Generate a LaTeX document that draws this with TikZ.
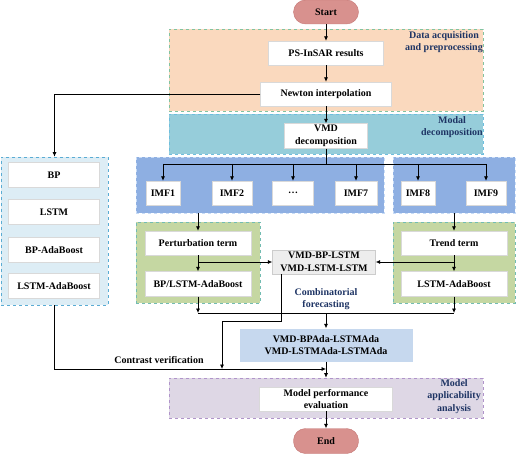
\documentclass[tikz,border=0pt]{standalone}
\usepackage{fontspec}
\setmainfont{Liberation Serif}
\usepackage{tikz}
\usetikzlibrary{shapes, arrows.meta, positioning}
\usepackage{xcolor}

\definecolor{termfill}{RGB}{216,145,142}
\definecolor{termdraw}{RGB}{196,118,116}
\definecolor{acqfill}{RGB}{250,217,190}
\definecolor{acqdraw}{RGB}{130,195,160}
\definecolor{modalfill}{RGB}{150,205,218}
\definecolor{modaldraw}{RGB}{110,190,222}
\definecolor{imffill}{RGB}{142,175,226}
\definecolor{imfdraw}{RGB}{200,220,246}
\definecolor{leftfill}{RGB}{221,237,245}
\definecolor{leftdraw}{RGB}{90,172,212}
\definecolor{greenfill}{RGB}{197,215,162}
\definecolor{greendraw}{RGB}{115,188,178}
\definecolor{evalfill}{RGB}{222,215,229}
\definecolor{evaldraw}{RGB}{176,148,202}
\definecolor{hybridfill}{RGB}{198,216,238}
\definecolor{navytext}{RGB}{30,52,100}

\begin{document}
\begin{tikzpicture}[x=1pt, y=-1pt, font=\bfseries\fontsize{10}{12.5}\selectfont]
        % Define block styles
        \tikzstyle{region} = [rectangle, dashed, line width=0.6pt, inner sep=0pt]
        \tikzstyle{whitenode} = [rectangle, draw=black!15, fill=white, align=center, inner sep=1pt, minimum height=24]
        \tikzstyle{termnode} = [rectangle, rounded corners=12pt, draw=termdraw, fill=termfill, minimum width=65, minimum height=24]
        \tikzstyle{tag} = [align=center, text=navytext, inner sep=0pt, anchor=north east]
        \tikzstyle{line} = [draw, line width=0.7pt, -{Latex[length=4.5pt, width=4pt]}]
        \useasboundingbox (0,0) rectangle (516,454);

        % Define regions
        \node [region, draw=acqdraw, fill=acqfill, minimum width=314, minimum height=82] (acqbox) at (326,70) {};
        \node [region, draw=modaldraw, fill=modalfill, minimum width=314, minimum height=40] (modalbox) at (326,134) {};
        \node [region, draw=imfdraw, fill=imffill, minimum width=248, minimum height=56] (imfleft) at (260,185) {};
        \node [region, draw=imfdraw, fill=imffill, minimum width=122, minimum height=56] (imfright) at (454,185) {};
        \node [region, draw=leftdraw, fill=leftfill, minimum width=107, minimum height=148] (leftbox) at (54.5,231) {};
        \node [region, draw=greendraw, fill=greenfill, minimum width=124, minimum height=81] (greenleft) at (198,262.5) {};
        \node [region, draw=greendraw, fill=greenfill, minimum width=122, minimum height=81] (greenright) at (454,262.5) {};
        \node [region, draw=evaldraw, fill=evalfill, minimum width=314, minimum height=40] (evalbox) at (326,398) {};

        % Define nodes
        \node [termnode] (start) at (326,12) {Start};
        \node [whitenode, minimum width=115] (psinsar) at (326,53) {PS-InSAR results};
        \node [whitenode, minimum width=131] (newton) at (326,94) {Newton interpolation};
        \node [whitenode, minimum width=83, minimum height=25] (vmd) at (326,136) {VMD\\decomposition};
        \node [whitenode, minimum width=34] (imf1) at (163,193) {IMF1};
        \node [whitenode, minimum width=40] (imf2) at (232,193) {IMF2};
        \node [whitenode, minimum width=41] (imfdots) at (293,193) {\ldots};
        \node [whitenode, minimum width=42] (imf7) at (356,193) {IMF7};
        \node [whitenode, minimum width=34] (imf8) at (418,193) {IMF8};
        \node [whitenode, minimum width=40] (imf9) at (486,193) {IMF9};
        \node [whitenode, minimum width=91, minimum height=25] (bp) at (54,175) {BP};
        \node [whitenode, minimum width=91, minimum height=25] (lstm) at (54,212) {LSTM};
        \node [whitenode, minimum width=91, minimum height=25] (bpada) at (54,250) {BP-AdaBoost};
        \node [whitenode, minimum width=91, minimum height=25] (lstmada) at (54,286) {LSTM-AdaBoost};
        \node [whitenode, minimum width=106] (perturb) at (198,243) {Perturbation term};
        \node [whitenode, minimum width=106, minimum height=25] (bplstmada) at (198,284) {BP/LSTM-AdaBoost};
        \node [whitenode, minimum width=106] (trend) at (454,243) {Trend term};
        \node [whitenode, minimum width=106, minimum height=25] (trendada) at (454,284) {LSTM-AdaBoost};
        \node [whitenode, draw=black!20, fill=black!7, minimum width=103] (combo) at (324,262) {VMD-BP-LSTM\\VMD-LSTM-LSTM};
        \node [whitenode, draw=none, fill=hybridfill, minimum width=173, minimum height=33] (hybrid) at (326,345) {VMD-BPAda-LSTMAda\\VMD-LSTMAda-LSTMAda};
        \node [whitenode, minimum width=133] (evaluation) at (326,399) {Model performance\\evaluation};
        \node [termnode, minimum height=25] (finish) at (326,441) {End};

        % Region labels
        \node [tag] (acqtag) at (483,31) {Data acquisition\\and preprocessing};
        \node [tag] (modaltag) at (483,116) {Modal\\decomposition};
        \node [tag] (evaltag) at (481,379) {Model\\applicability\\analysis};
        \node [align=center, text=navytext, inner sep=0pt] (combtag) at (326,299) {Combinatorial\\forecasting};
        \node [inner sep=0pt] (contrasttag) at (159,360) {Contrast verification};

        % Connect nodes with paths
        \coordinate (fork) at (326,164);
        \coordinate (merge) at (326,313);
        \coordinate (contrast) at (326,369);
        \coordinate (bend) at (222,321);
        \path [line] (start) -- (psinsar);
        \path [line] (psinsar) -- (newton);
        \path [line] (newton) -- (vmd);
        \path [line] (newton.west) -| (leftbox.north);
        \draw [line width=0.7pt] (vmd.south) -- (fork);
        \draw [line width=0.7pt] (fork -| imf1.north) -- (fork -| imf9.north);
        \foreach \n in {imf1, imf2, imfdots, imf7, imf8, imf9}
            \path [line] (fork -| \n.north) -- (\n.north);
        \path [line] (perturb.north |- imfleft.south) -- (perturb.north);
        \path [line] (trend.north |- imfright.south) -- (trend.north);
        \path [line] (perturb) -- (bplstmada);
        \path [line] (trend) -- (trendada);
        \path [line] (perturb.south |- combo.west) -- (combo.west);
        \path [line] (trend.south |- combo.east) -- (combo.east);
        \path [line] (bplstmada.south) -- (bplstmada.south |- merge);
        \path [line] (trendada.south) -- (trendada.south |- merge);
        \draw [line width=0.7pt] (bplstmada.south |- merge) -- (trendada.south |- merge);
        \path [line] (merge) -- (hybrid.north);
        \path [line] ([xshift=-43pt]combo.south) |- (bend) -- (bend |- contrast);
        \path [line] (leftbox.south) |- (contrast);
        \path [line] (hybrid.south) -- (evalbox.north);
        \path [line] (evaluation) -- (finish);
\end{tikzpicture}
\end{document}
